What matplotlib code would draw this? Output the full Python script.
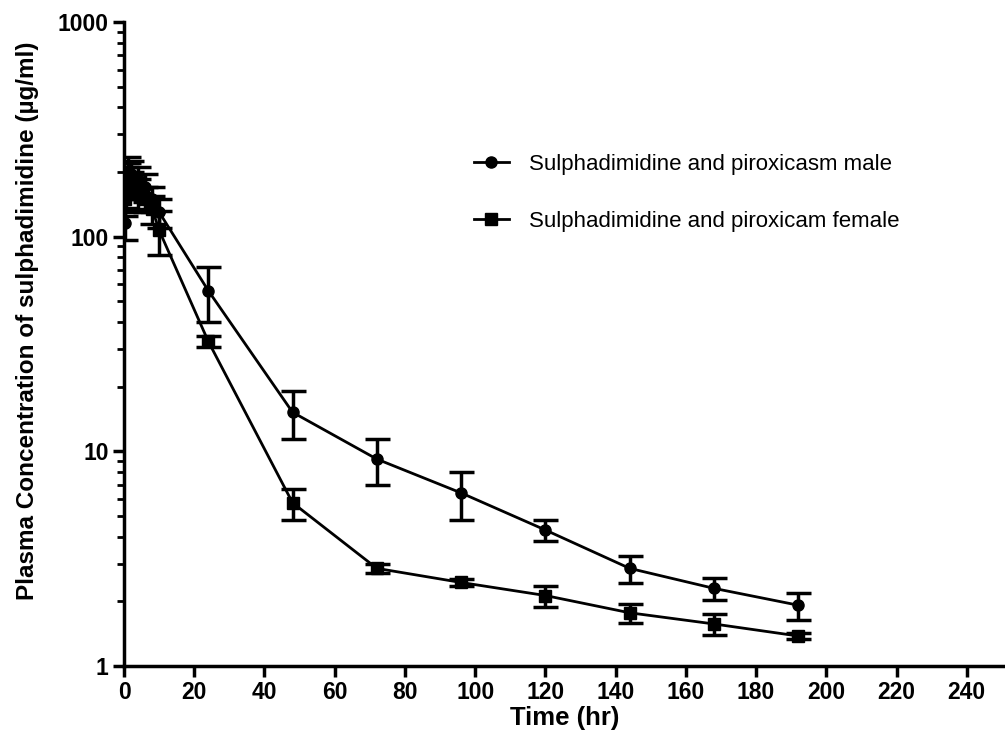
import matplotlib
matplotlib.use("Agg")
import matplotlib.pyplot as plt
from matplotlib.lines import Line2D
from matplotlib.ticker import FixedLocator, LogLocator, NullFormatter

plt.rcParams['font.family'] = ['Liberation Sans', 'DejaVu Sans']

time_h = [0.25, 0.5, 1, 2, 4, 6, 8, 10, 24, 48, 72, 96, 120, 144, 168, 192]
male_mean = [116, 160, 200, 195, 185, 170, 150, 130, 56, 15.2, 9.2, 6.4, 4.3, 2.85, 2.3, 1.92]
male_sd = [20, 30, 35, 30, 25, 25, 20, 20, 16, 3.8, 2.2, 1.6, 0.47, 0.42, 0.28, 0.28]
female_mean = [150, 180, 190, 175, 160, 150, 135, 107, 32.5, 5.76, 2.85, 2.45, 2.13, 1.77, 1.57, 1.38]
female_sd = [25, 30, 30, 25, 25, 20, 20, 25, 2.0, 0.95, 0.15, 0.1, 0.24, 0.18, 0.17, 0.04]

x_ticks = [0, 20, 40, 60, 80, 100, 120, 140, 160, 180, 200, 220, 240]
y_ticks = [1, 10, 100, 1000]
y_ticklabels = ['1', '10', '100', '1000']

label_male = 'Sulphadimidine and piroxicasm male'
label_female = 'Sulphadimidine and piroxicam female'

fig = plt.figure(figsize=(10.05, 7.37), dpi=100)
ax = fig.add_axes([0.1234, 0.0963, 0.877, 0.874])

ax.errorbar(time_h, male_mean, yerr=male_sd, color='black', marker='o', markersize=8,
            linewidth=2, elinewidth=2.5, capsize=9, capthick=2.5, zorder=3)
ax.errorbar(time_h, female_mean, yerr=female_sd, color='black', marker='s', markersize=8,
            linewidth=2, elinewidth=2.5, capsize=9, capthick=2.5, zorder=3)

ax.set_yscale('log')
ax.set_ylim(1, 1000)
ax.set_xlim(0, 251)
ax.xaxis.set_major_locator(FixedLocator(x_ticks))
ax.set_xticklabels([str(t) for t in x_ticks])
ax.yaxis.set_major_locator(FixedLocator(y_ticks))
ax.set_yticklabels(y_ticklabels)
ax.yaxis.set_minor_locator(LogLocator(base=10, subs=range(2, 10)))
ax.yaxis.set_minor_formatter(NullFormatter())

for s in ['top', 'right']:
    ax.spines[s].set_visible(False)
for s in ['left', 'bottom']:
    ax.spines[s].set_linewidth(2.5)
ax.tick_params(axis='both', which='major', width=2.5, length=8, direction='out', pad=3)
ax.tick_params(axis='y', which='minor', width=2, length=5)
for lab in ax.get_xticklabels() + ax.get_yticklabels():
    lab.set_fontweight('bold')
    lab.set_fontsize(16.5)

ax.set_xlabel('Time (hr)', fontsize=18.5, fontweight='bold', labelpad=1)
ax.set_ylabel('Plasma Concentration of sulphadimidine (µg/ml)', fontsize=17.5, fontweight='bold')
ax.yaxis.set_label_coords(-0.097, 0.536)

handles = [Line2D([], [], color='black', marker='o', markersize=8, linewidth=2),
           Line2D([], [], color='black', marker='s', markersize=8, linewidth=2)]
ax.legend(handles, [label_male, label_female], loc='upper left', bbox_to_anchor=(0.374, 0.826),
          frameon=False, fontsize=16, labelspacing=1.6, handlelength=1.6, handletextpad=0.9)

fig.savefig('out.png', dpi=100)
